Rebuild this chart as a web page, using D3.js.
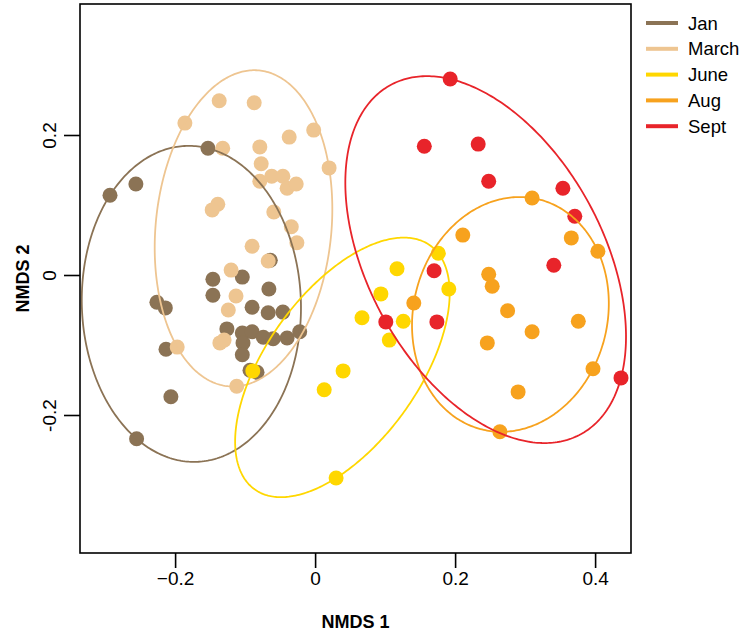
<!DOCTYPE html>
<html>
<head>
<meta charset="utf-8">
<script src="https://cdn.jsdelivr.net/npm/d3@7"></script>
<style>
  html, body { margin: 0; padding: 0; background: #fff; }
  text { font-family: "Liberation Sans", Arial, Helvetica, sans-serif; }
</style>
</head>
<body>
<svg id="chart" width="742" height="633"></svg>
<script>
// ---- Data ----
const groups = ["Jan", "March", "June", "Aug", "Sept"];
const groupColors = ["#8B7355", "#EEC591", "#FFD700", "#F7A21E", "#E8242A"];

const janX = [-0.293,-0.256,-0.153,-0.146,-0.104,-0.146,-0.066,-0.064,-0.226,-0.214,-0.090,-0.067,-0.046,-0.126,-0.104,-0.090,-0.074,-0.060,-0.040,-0.022,-0.103,-0.104,-0.093,-0.083,-0.213,-0.206,-0.255];
const janY = [0.114,0.130,0.181,-0.006,-0.003,-0.029,-0.020,0.021,-0.039,-0.047,-0.046,-0.054,-0.053,-0.077,-0.083,-0.081,-0.089,-0.091,-0.090,-0.081,-0.097,-0.114,-0.136,-0.139,-0.106,-0.174,-0.234];

const marX = [-0.137,-0.087,-0.186,-0.132,-0.079,-0.037,-0.002,0.020,-0.077,-0.079,-0.062,-0.046,-0.040,-0.027,-0.139,-0.147,-0.059,-0.034,-0.026,-0.090,-0.067,-0.120,-0.113,-0.124,-0.130,-0.136,-0.197,-0.112];
const marY = [0.249,0.246,0.217,0.181,0.183,0.197,0.207,0.153,0.159,0.134,0.141,0.141,0.124,0.130,0.101,0.093,0.090,0.069,0.046,0.041,0.020,0.007,-0.030,-0.050,-0.093,-0.097,-0.103,-0.159];

const junX = [0.176,0.117,0.191,0.094,0.067,0.126,0.106,0.040,0.013,-0.089,0.030];
const junY = [0.031,0.009,-0.020,-0.027,-0.061,-0.066,-0.093,-0.137,-0.164,-0.137,-0.290];

const augX = [0.310,0.211,0.366,0.404,0.248,0.253,0.141,0.275,0.376,0.310,0.246,0.397,0.290,0.264];
const augY = [0.110,0.057,0.053,0.034,0.001,-0.016,-0.040,-0.051,-0.066,-0.081,-0.097,-0.134,-0.167,-0.224];

const sepX = [0.193,0.156,0.233,0.248,0.354,0.371,0.341,0.170,0.101,0.174,0.437];
const sepY = [0.280,0.184,0.187,0.134,0.124,0.084,0.014,0.006,-0.067,-0.067,-0.147];

const seriesX = [janX, marX, junX, augX, sepX];
const seriesY = [janY, marY, junY, augY, sepY];

const xTicks = [-0.2, 0, 0.2, 0.4];
const xTickLabels = ["\u22120.2", "0", "0.2", "0.4"];
const yTicks = [-0.2, 0, 0.2];
const yTickLabels = ["-0.2", "0", "0.2"];

// ---- Layout ----
const plot = { left: 80, right: 631, top: 4, bottom: 553 };
const pxPerUnit = 700;
const x0 = 315.1, y0 = 275;

const x = d3.scaleLinear()
  .domain([(plot.left - x0) / pxPerUnit, (plot.right - x0) / pxPerUnit])
  .range([plot.left, plot.right]);
const y = d3.scaleLinear()
  .domain([(y0 - plot.bottom) / pxPerUnit, (y0 - plot.top) / pxPerUnit])
  .range([plot.bottom, plot.top]);

const svg = d3.select("#chart");

// ---- Minimum-volume enclosing ellipse (Khachiyan), like vegan's ehull ----
function inv3(m) {
  const [a,b,c] = m[0], [d,e,f] = m[1], [g,h,i] = m[2];
  const A = e*i - f*h, B = -(d*i - f*g), C = d*h - e*g;
  const det = a*A + b*B + c*C;
  return [
    [A/det, -(b*i - c*h)/det, (b*f - c*e)/det],
    [B/det, (a*i - c*g)/det, -(a*f - c*d)/det],
    [C/det, -(a*h - b*g)/det, (a*e - b*d)/det]
  ];
}
function mvee(xs, ys) {
  const n = xs.length, d = 2;
  let u = new Array(n).fill(1 / n);
  for (let iter = 0; iter < 20000; iter++) {
    const X = [[0,0,0],[0,0,0],[0,0,0]];
    for (let k = 0; k < n; k++) {
      const q = [xs[k], ys[k], 1];
      for (let r = 0; r < 3; r++) for (let s = 0; s < 3; s++) X[r][s] += u[k] * q[r] * q[s];
    }
    const Xi = inv3(X);
    let maxM = -Infinity, j = 0;
    for (let k = 0; k < n; k++) {
      const q = [xs[k], ys[k], 1];
      let m = 0;
      for (let r = 0; r < 3; r++) for (let s = 0; s < 3; s++) m += q[r] * Xi[r][s] * q[s];
      if (m > maxM) { maxM = m; j = k; }
    }
    const step = (maxM - d - 1) / ((d + 1) * (maxM - 1));
    u = u.map(v => v * (1 - step));
    u[j] += step;
    if (step < 1e-9) break;
  }
  let cx = 0, cy = 0;
  for (let k = 0; k < n; k++) { cx += u[k] * xs[k]; cy += u[k] * ys[k]; }
  let sxx = 0, sxy = 0, syy = 0;
  for (let k = 0; k < n; k++) {
    sxx += u[k] * xs[k] * xs[k]; sxy += u[k] * xs[k] * ys[k]; syy += u[k] * ys[k] * ys[k];
  }
  sxx -= cx * cx; sxy -= cx * cy; syy -= cy * cy;
  const tr = (sxx + syy) / 2, diff = (sxx - syy) / 2;
  const rad = Math.sqrt(diff * diff + sxy * sxy);
  const l1 = tr + rad, l2 = tr - rad;
  const theta = 0.5 * Math.atan2(2 * sxy, sxx - syy);
  return { cx, cy, r1: Math.sqrt(d * l1), r2: Math.sqrt(d * Math.max(l2, 0)), theta };
}

// ---- Points ----
groups.forEach((g, gi) => {
  const pts = seriesX[gi].map((vx, k) => ({ x: vx, y: seriesY[gi][k] }));
  svg.append("g").selectAll("circle").data(pts).join("circle")
    .attr("cx", d => x(d.x))
    .attr("cy", d => y(d.y))
    .attr("r", 7.5)
    .attr("fill", groupColors[gi]);
});

// ---- Ellipses ----
const line = d3.line().x(d => x(d[0])).y(d => y(d[1])).curve(d3.curveLinearClosed);
groups.forEach((g, gi) => {
  const e = mvee(seriesX[gi], seriesY[gi]);
  const pts = d3.range(0, 360, 1).map(a => {
    const t = a * Math.PI / 180;
    const ex = e.r1 * Math.cos(t), ey = e.r2 * Math.sin(t);
    return [e.cx + ex * Math.cos(e.theta) - ey * Math.sin(e.theta),
            e.cy + ex * Math.sin(e.theta) + ey * Math.cos(e.theta)];
  });
  svg.append("path").attr("d", line(pts))
    .attr("fill", "none").attr("stroke", groupColors[gi]).attr("stroke-width", 1.8);
});

// ---- Box ----
svg.append("rect")
  .attr("x", plot.left).attr("y", plot.top)
  .attr("width", plot.right - plot.left).attr("height", plot.bottom - plot.top)
  .attr("fill", "none").attr("stroke", "#000").attr("stroke-width", 1.6);

// ---- Axes ----
const xAxis = svg.append("g").attr("transform", `translate(0,${plot.bottom})`)
  .call(d3.axisBottom(x).tickValues(xTicks).tickSize(15).tickPadding(4)
    .tickFormat((d, i) => xTickLabels[i]));
xAxis.select(".domain").remove();
xAxis.selectAll(".tick line").attr("stroke", "#000").attr("stroke-width", 1.6);
xAxis.selectAll(".tick text").attr("font-size", 19).attr("fill", "#000")
  .attr("font-family", "Liberation Sans, Arial, sans-serif");

const yAxis = svg.append("g").attr("transform", `translate(${plot.left},0)`)
  .call(d3.axisLeft(y).tickValues(yTicks).tickSize(16).tickPadding(0)
    .tickFormat((d, i) => yTickLabels[i]));
yAxis.select(".domain").remove();
yAxis.selectAll(".tick line").attr("stroke", "#000").attr("stroke-width", 1.6);
yAxis.selectAll(".tick text")
  .attr("font-size", 19).attr("fill", "#000")
  .attr("font-family", "Liberation Sans, Arial, sans-serif")
  .attr("x", null).attr("dy", null)
  .attr("text-anchor", "middle")
  .attr("transform", "translate(-24,0) rotate(-90)");

// ---- Axis titles ----
svg.append("text").attr("x", (plot.left + plot.right) / 2).attr("y", 628)
  .attr("text-anchor", "middle").attr("font-weight", "bold").attr("font-size", 18)
  .text("NMDS 1");
svg.append("text").attr("transform", `translate(29,${(plot.top + plot.bottom) / 2}) rotate(-90)`)
  .attr("text-anchor", "middle").attr("font-weight", "bold").attr("font-size", 18)
  .text("NMDS 2");

// ---- Legend ----
const legend = svg.append("g");
groups.forEach((g, gi) => {
  const ly = 23 + gi * 25.8;
  legend.append("line").attr("x1", 646).attr("x2", 678).attr("y1", ly).attr("y2", ly)
    .attr("stroke", groupColors[gi]).attr("stroke-width", 4);
  legend.append("text").attr("x", 688).attr("y", ly + 6.5).attr("font-size", 18.5)
    .text(g);
});
</script>
</body>
</html>
